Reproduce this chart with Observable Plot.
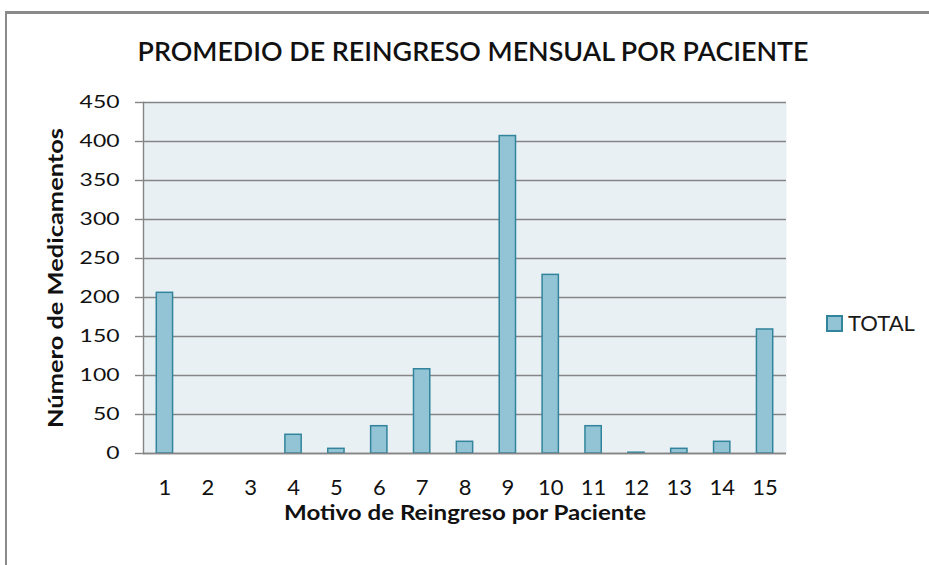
<!DOCTYPE html>
<html>
<head>
<meta charset="utf-8">
<script src="https://cdn.jsdelivr.net/npm/d3@7"></script>
<script src="https://cdn.jsdelivr.net/npm/@observablehq/plot@0.6"></script>
<style>
  html, body { margin: 0; padding: 0; background: #fff; }
  #wrap { position: relative; width: 929px; height: 565px; overflow: hidden; font-family: Lato, "Open Sans", sans-serif; }
  #border { position: absolute; left: 5px; top: 11px; width: 960px; height: 600px; border-left: 2.5px solid #8a8a8a; border-top: 3px solid #8a8a8a; box-sizing: border-box; }
  #chart { position: absolute; left: 0; top: 0; }
  #legend { position: absolute; left: 826px; top: 312px; display: flex; align-items: center; }
  #legend .sw { width: 13px; height: 13px; background: #93C4D5; border: 2px solid #31849B; }
  #legend .lb { margin-left: 5px; font-size: 22px; color: #1a1a1a; line-height: 22px; }
</style>
</head>
<body>
<div id="wrap">
  <div id="border"></div>
  <div id="chart"></div>
  <div id="legend"><div class="sw"></div><div class="lb">TOTAL</div></div>
</div>
<script>
const categories = ["1","2","3","4","5","6","7","8","9","10","11","12","13","14","15"];
const values = [206, 0, 0, 24, 6, 35, 108, 15, 407, 229, 35, 1, 6, 15, 159];
const yTicks = [0, 50, 100, 150, 200, 250, 300, 350, 400, 450];
const titleText = "PROMEDIO DE REINGRESO MENSUAL POR PACIENTE";
const xTitle = "Motivo de Reingreso por Paciente";
const yTitle = "Número de Medicamentos";
const seriesName = "TOTAL";

const data = categories.map((c, i) => ({cat: c, value: values[i]}));

const chart = Plot.plot({
  width: 929,
  height: 565,
  marginTop: 102,
  marginBottom: 112,
  marginLeft: 143,
  marginRight: 143,
  style: {fontFamily: "Lato, 'Open Sans', sans-serif", color: "#111", background: "transparent"},
  x: {type: "band", domain: categories, paddingInner: 0.62, paddingOuter: 0.31, round: false},
  y: {domain: [0, 450]},
  marks: [
    Plot.frame({fill: "#E8F0F4", stroke: null}),
    Plot.gridY(yTicks, {stroke: "#858585", strokeOpacity: 1, strokeWidth: 1.4}),
    Plot.frame({anchor: "left", stroke: "#858585", strokeWidth: 1.4}),
    Plot.barY(data, {filter: d => d.value > 0, x: "cat", y: "value", fill: "#93C4D5", stroke: "#31849B", strokeWidth: 1.5}),
    Plot.axisY({ticks: yTicks, tickSize: 8, tickPadding: 16, fontSize: 18, stroke: "#858585", strokeWidth: 1.4, label: null, className: "yax"}),
    Plot.axisX({tickSize: 0, tickPadding: 26, fontSize: 22, label: null}),
    Plot.ruleY([0], {stroke: "#858585", strokeWidth: 1.4}),
    Plot.text([titleText], {frameAnchor: "top", dx: 8, dy: -50, fontSize: 27, fontWeight: 600, fill: "#111", textAnchor: "middle", lineAnchor: "middle", className: "ttl"}),
    Plot.text([xTitle], {frameAnchor: "bottom", dy: 60, fontSize: 21, fontWeight: "bold", fill: "#111", textAnchor: "middle", lineAnchor: "middle", className: "xttl"}),
    Plot.text([yTitle], {frameAnchor: "left", dx: -87, rotate: -90, fontSize: 20, fontWeight: "bold", fill: "#111", textAnchor: "middle", lineAnchor: "middle", className: "yttl"})
  ]
});
document.getElementById("chart").appendChild(chart);

const svg = d3.select(chart);
function fit(cls, len) {
  svg.selectAll("g." + cls + " text").attr("textLength", len).attr("lengthAdjust", "spacingAndGlyphs");
}
fit("ttl", 671);
fit("xttl", 362);
fit("yttl", 300);
// widen y tick labels to match the stretched digits of the original
svg.selectAll("g.yax text").each(function() {
  const n = this.textContent.length;
  d3.select(this).attr("textLength", n * 13.3).attr("lengthAdjust", "spacingAndGlyphs");
});
</script>
</body>
</html>
